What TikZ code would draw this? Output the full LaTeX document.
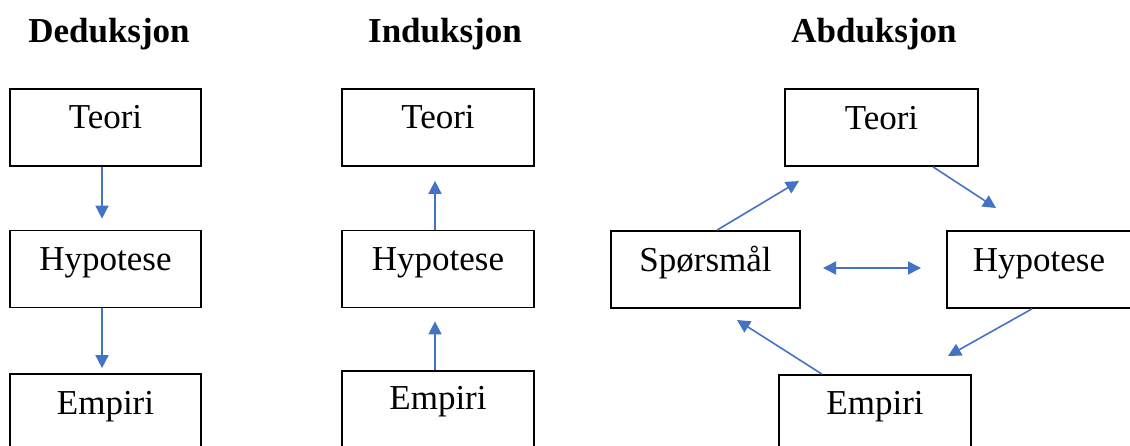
\documentclass[tikz,border=0pt]{standalone}
\usepackage{fontspec}
\setmainfont{Liberation Serif}
\usetikzlibrary{arrows.meta}
\definecolor{arrowblue}{RGB}{68,114,196}
\begin{document}
\begin{tikzpicture}[x=1pt,y=-1pt,
  box/.style={draw=black,line width=1.7pt,rectangle,minimum width=#1,minimum height=77pt,inner sep=0pt},
  box/.default=191pt,
  lbl/.style={anchor=base,inner sep=0pt,font=\fontsize{35}{40}\selectfont},
  ttl/.style={anchor=base,inner sep=0pt,font=\fontsize{35}{40}\selectfont\bfseries},
  arr/.style={draw=arrowblue,line width=1.6pt,-{Triangle[length=13pt,width=13pt]}},
  darr/.style={draw=arrowblue,line width=1.6pt,{Triangle[length=13pt,width=13pt]}-{Triangle[length=13pt,width=13pt]}}
]
\useasboundingbox (0,0) rectangle (1130,445);
\clip (0,0) rectangle (1130,445);

% titles
\node[ttl] (tD) at (109,42) {Deduksjon};
\node[ttl] (tI) at (445,42) {Induksjon};
\node[ttl] (tA) at (874,42) {Abduksjon};

% Deduksjon
\node[box] (dT) at (105.5,127.5) {};
\node[box] (dH) at (105.5,269) {};
\node[box] (dE) at (105.5,412.5) {};
\node[lbl] (dTl) at ([yshift=-40pt]dT.north) {Teori};
\node[lbl] (dHl) at ([yshift=-41pt]dH.north) {Hypotese};
\node[lbl] (dEl) at ([yshift=-41pt]dE.north) {Empiri};
\draw[arr,shorten >=11pt] ([xshift=-3.5pt]dT.south) -- ([xshift=-3.5pt]dH.north);
\draw[arr,shorten >=5pt] ([xshift=-3.5pt]dH.south) -- ([xshift=-3.5pt]dE.north);

% Induksjon
\node[box=192pt] (iT) at (438,127.5) {};
\node[box=192pt] (iH) at (438,269) {};
\node[box=192pt] (iE) at (438,409.5) {};
\node[lbl] (iTl) at ([yshift=-40pt]iT.north) {Teori};
\node[lbl] (iHl) at ([yshift=-41pt]iH.north) {Hypotese};
\node[lbl] (iEl) at ([yshift=-39pt]iE.north) {Empiri};
\draw[arr,shorten >=14pt] ([xshift=-3pt]iH.north) -- ([xshift=-3pt]iT.south);
\draw[arr,shorten >=13pt] ([xshift=-3pt]iE.north) -- ([xshift=-3pt]iH.south);

% Abduksjon
\node[box=193pt] (aT) at (881.5,127.5) {};
\node[box=189pt] (aS) at (705.5,269.5) {};
\node[box=184pt] (aH) at (1039,269.5) {};
\node[box=192pt] (aE) at (875,413.5) {};
\node[lbl] (aTl) at ([yshift=-41pt]aT.north) {Teori};
\node[lbl] (aSl) at ([yshift=-41pt]aS.north) {Spørsmål};
\node[lbl] (aHl) at ([yshift=-41pt]aH.north) {Hypotese};
\node[lbl] (aEl) at ([yshift=-40pt]aE.north) {Empiri};

\coordinate (cST) at (799,181);
\coordinate (cTH) at (996,208);
\coordinate (cHE) at (948,356);
\coordinate (cES) at (737,320);
\coordinate (cL) at (823,268);
\coordinate (cR) at (921,268);

\draw[arr] ([xshift=11.5pt]aS.north) -- (cST);
\draw[arr] ([xshift=51.5pt]aT.south) -- (cTH);
\draw[arr] ([xshift=-7pt]aH.south) -- (cHE);
\draw[arr] ([xshift=-53pt]aE.north) -- (cES);
\draw[darr] (cL) -- (cR);
\end{tikzpicture}
\end{document}
